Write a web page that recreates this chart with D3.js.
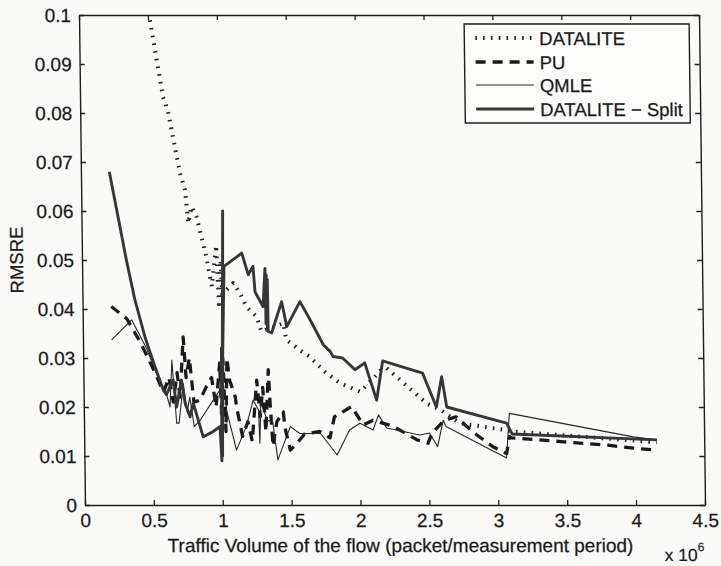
<!DOCTYPE html>
<html>
<head>
<meta charset="utf-8">
<script src="https://cdn.jsdelivr.net/npm/d3@7"></script>
<style>
  html, body { margin: 0; padding: 0; background: #fafaf9; }
  svg { display: block; }
  text { font-family: "Liberation Sans", Arial, Helvetica, sans-serif; fill: #1a1a1a; }
</style>
</head>
<body>
<svg id="chart" width="721" height="566"></svg>
<script>
// Traffic volume (x 10^6 packets / measurement period) vs. RMSRE, one array per estimator
const datalite = [
  [0.505,0.1005],[0.602,0.0833],[0.635,0.0806],[0.719,0.0677],[0.754,0.0643],[0.775,0.0575],
  [0.80,0.0609],[0.835,0.0588],[0.902,0.0507],[0.94,0.0446],[0.975,0.053],[0.99,0.041],
  [1.005,0.050],[1.015,0.043],[1.095,0.0453],[1.144,0.0432],[1.188,0.0405],[1.263,0.0384],
  [1.295,0.0354],[1.456,0.0371],[1.475,0.0337],[1.574,0.0316],[1.643,0.0303],[1.752,0.0272],
  [1.861,0.0249],[2.01,0.0231],[2.162,0.0276],[2.20,0.028],[2.49,0.0207],[2.59,0.0194],
  [2.727,0.0167],[3.057,0.0153],[3.107,0.015],[4.155,0.0128]
];

const pu = [
  [0.208,0.0405],[0.32,0.038],[0.42,0.033],[0.52,0.027],[0.58,0.023],[0.62,0.026],[0.65,0.021],
  [0.68,0.027],[0.70,0.022],[0.727,0.0343],[0.745,0.026],[0.77,0.030],[0.80,0.021],[0.844,0.0214],
  [0.89,0.0241],[0.93,0.026],[0.96,0.020],[0.99,0.029],[1.0,0.018],[1.013,0.030],[1.03,0.015],
  [1.043,0.030],[1.06,0.0255],[1.10,0.0221],[1.11,0.0198],[1.15,0.014],[1.19,0.017],[1.22,0.013],
  [1.257,0.0255],[1.28,0.018],[1.30,0.024],[1.32,0.015],[1.342,0.0276],[1.35,0.0221],[1.37,0.012],
  [1.40,0.017],[1.448,0.019],[1.457,0.016],[1.495,0.0112],[1.545,0.0126],[1.60,0.0145],[1.71,0.015],
  [1.784,0.0137],[1.818,0.018],[1.944,0.0201],[2.027,0.0163],[2.097,0.0173],[2.217,0.0163],
  [2.247,0.016],[2.416,0.0133],[2.495,0.0126],[2.526,0.0147],[2.617,0.0173],[2.70,0.018],
  [2.836,0.0146],[2.965,0.0119],[3.065,0.0105],[3.086,0.014],[3.10,0.0137],[3.48,0.0129],
  [3.80,0.0122],[3.985,0.0116],[4.155,0.0112]
];

const qmle = [
  [0.208,0.0337],[0.355,0.0378],[0.46,0.032],[0.568,0.0241],[0.60,0.0228],[0.626,0.020],
  [0.643,0.0296],[0.673,0.0167],[0.69,0.0167],[0.724,0.0248],[0.75,0.019],[0.77,0.022],
  [0.80,0.016],[0.843,0.0173],[0.99,0.0235],[1.0,0.028],[1.04,0.0188],[1.105,0.0112],
  [1.177,0.016],[1.23,0.0214],[1.268,0.0194],[1.275,0.0126],[1.285,0.021],[1.33,0.0173],
  [1.37,0.017],[1.404,0.0092],[1.497,0.016],[1.566,0.0146],[1.716,0.0146],[1.835,0.0102],
  [1.927,0.0153],[2.003,0.0167],[2.097,0.0153],[2.138,0.0184],[2.197,0.0157],[2.436,0.0143],
  [2.506,0.0147],[2.565,0.0119],[2.607,0.0173],[2.627,0.016],[3.064,0.0096],[3.088,0.0187],
  [3.986,0.0139],[4.156,0.0133]
];

const split = [
  [0.206,0.068],[0.322,0.050],[0.381,0.0418],[0.45,0.0343],[0.52,0.0282],[0.578,0.0235],
  [0.60,0.0225],[0.651,0.0255],[0.674,0.020],[0.711,0.0255],[0.735,0.0208],[0.77,0.018],
  [0.795,0.0208],[0.864,0.0139],[0.937,0.015],[0.987,0.016],[0.998,0.009],[1.004,0.032],
  [1.0,0.011],[1.025,0.060],[1.003,0.010],[1.01,0.028],[1.03,0.0487],[1.16,0.0514],
  [1.205,0.047],[1.24,0.0487],[1.253,0.0435],[1.31,0.0405],[1.327,0.0483],[1.33,0.037],
  [1.335,0.047],[1.34,0.036],[1.343,0.046],[1.345,0.0354],[1.37,0.0351],[1.445,0.0415],
  [1.48,0.0364],[1.578,0.0415],[1.65,0.0378],[1.744,0.0327],[1.794,0.0313],[1.813,0.0303],
  [1.883,0.030],[1.972,0.0276],[2.043,0.029],[2.126,0.0214],[2.173,0.0294],[2.462,0.0269],
  [2.559,0.020],[2.60,0.0262],[2.634,0.020],[3.067,0.0167],[3.106,0.0145],[4.156,0.0133]
];

const seriesNames = ["DATALITE", "PU", "QMLE", "DATALITE \u2212 Split"];
const xTicks = [0, 0.5, 1, 1.5, 2, 2.5, 3, 3.5, 4, 4.5];
const yTicks = [0, 0.01, 0.02, 0.03, 0.04, 0.05, 0.06, 0.07, 0.08, 0.09, 0.1];
const xLabel = "Traffic Volume of the flow (packet/measurement period)";
const yLabel = "RMSRE";

const svg = d3.select("#chart");
const plotL = 85, plotR = 705, plotT = 15, plotB = 505;
const ink = "#1e1e1e";

// the whole figure leans slightly, as in the printed page
const root = svg.append("g")
  .attr("transform", `translate(0,${plotB}) skewX(0.7) translate(0,${-plotB})`);

const x = d3.scaleLinear().domain([0, 4.5]).range([plotL, plotR]);
const y = d3.scaleLinear().domain([0, 0.1]).range([plotB, plotT]);

root.append("clipPath").attr("id", "plotclip")
  .append("rect").attr("x", plotL).attr("y", plotT).attr("width", plotR - plotL).attr("height", plotB - plotT);

const line = d3.line().x(d => x(d[0])).y(d => y(d[1]));

const styles = [
  { data: datalite, width: 4.0, dash: "1.6,6.2", color: "#222" },
  { data: pu,       width: 3.3, dash: "10,7",    color: "#1a1a1a" },
  { data: qmle,     width: 1.1, dash: null,      color: "#262626" },
  { data: split,    width: 2.9, dash: null,      color: "#363636" }
];

const plot = root.append("g").attr("clip-path", "url(#plotclip)");
styles.forEach(s => {
  plot.append("path")
    .datum(s.data)
    .attr("d", line)
    .attr("fill", "none")
    .attr("stroke", s.color)
    .attr("stroke-width", s.width)
    .attr("stroke-dasharray", s.dash)
    .attr("stroke-linejoin", "round");
});

// axes box with inward ticks on all four sides
const fmt = d => String(d);
const axB = root.append("g").attr("transform", `translate(0,${plotB})`)
  .call(d3.axisBottom(x).tickValues(xTicks).tickSizeInner(-5).tickSizeOuter(0).tickPadding(8).tickFormat(fmt));
const axT = root.append("g").attr("transform", `translate(0,${plotT})`)
  .call(d3.axisTop(x).tickValues(xTicks).tickSizeInner(-5).tickSizeOuter(0).tickFormat(""));
const axL = root.append("g").attr("transform", `translate(${plotL},0)`)
  .call(d3.axisLeft(y).tickValues(yTicks).tickSizeInner(-5).tickSizeOuter(0).tickPadding(8).tickFormat(fmt));
const axR = root.append("g").attr("transform", `translate(${plotR},0)`)
  .call(d3.axisRight(y).tickValues(yTicks).tickSizeInner(-5).tickSizeOuter(0).tickFormat(""));

[axB, axT, axL, axR].forEach(a => {
  a.select(".domain").attr("stroke", ink).attr("stroke-width", 1.4);
  a.selectAll(".tick line").attr("stroke", ink).attr("stroke-width", 1.3);
  a.selectAll(".tick text").attr("font-size", 19).attr("fill", "#1a1a1a")
    .attr("stroke", "#1a1a1a").attr("stroke-width", 0.25)
    .style("font-family", '"Liberation Sans", Arial, sans-serif');
});
axB.selectAll(".tick text").attr("dy", "0.76em");
axL.selectAll(".tick text").attr("dy", "0.34em");

// axis titles
root.append("text").attr("x", 400).attr("y", 552)
  .attr("text-anchor", "middle").attr("font-size", 19)
  .attr("stroke", "#1a1a1a").attr("stroke-width", 0.25).text(xLabel);
root.append("text").attr("transform", `translate(26,${(plotT + plotB) / 2}) rotate(-90)`)
  .attr("text-anchor", "middle").attr("font-size", 18.5)
  .attr("stroke", "#1a1a1a").attr("stroke-width", 0.25).text(yLabel);

const mult = root.append("text").attr("x", 664).attr("y", 561).attr("font-size", 17.5)
  .attr("stroke", "#1a1a1a").attr("stroke-width", 0.2);
mult.append("tspan").text("x 10");
mult.append("tspan").attr("dy", -10).attr("font-size", 12).text("6");

// legend
const lg = root.append("g");
lg.append("rect").attr("x", 470).attr("y", 24).attr("width", 225).attr("height", 99)
  .attr("fill", "#fcfcfb").attr("stroke", ink).attr("stroke-width", 1.4);
const rowY = [38, 62, 85, 109];
styles.forEach((s, i) => {
  lg.append("line")
    .attr("x1", 481).attr("x2", 539).attr("y1", rowY[i]).attr("y2", rowY[i])
    .attr("stroke", s.color).attr("stroke-width", s.width).attr("stroke-dasharray", s.dash);
  lg.append("text").attr("x", 545).attr("y", rowY[i]).attr("dy", "0.36em")
    .attr("font-size", 18.5).attr("stroke", "#1a1a1a").attr("stroke-width", 0.25)
    .text(seriesNames[i]);
});
</script>
</body>
</html>
